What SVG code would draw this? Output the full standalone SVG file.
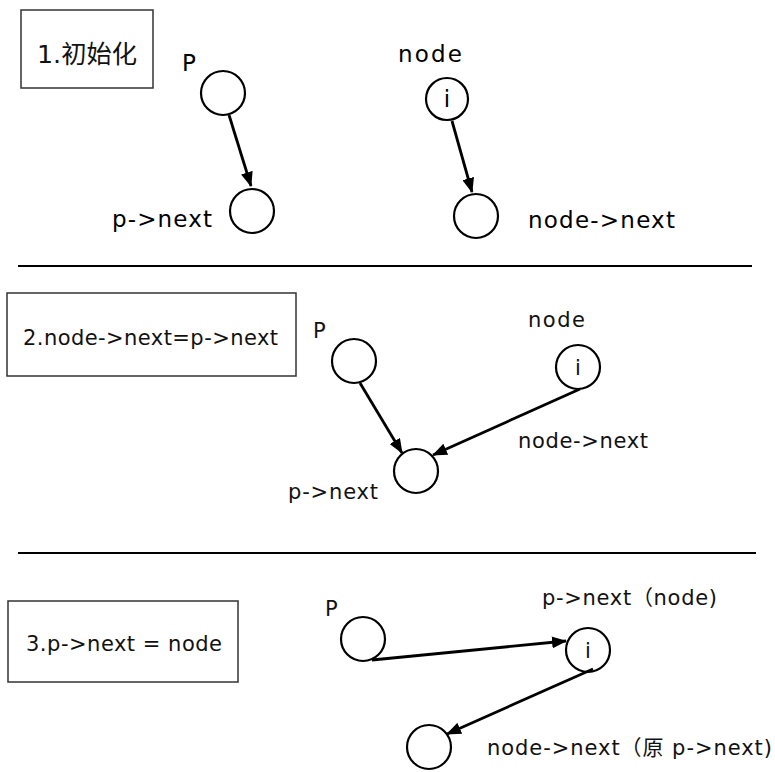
<svg xmlns="http://www.w3.org/2000/svg" width="775" height="772" viewBox="0 0 775 772">
<style>
  .box { fill: #fff; stroke: #333; stroke-width: 1.5; }
  .node { fill: #fff; stroke: #000; stroke-width: 2.2; }
  .sep { stroke: #000; stroke-width: 2; }
  .edge { stroke: #000; stroke-width: 2.8; fill: none; marker-end: url(#ah); }
  text { font-family: "DejaVu Sans", "Noto Sans CJK SC", sans-serif; fill: #000; }
  .t22 { font-size: 23px; }
  .lbl { font-size: 21px; fill: #111; }
  .mid { text-anchor: middle; }
</style>
<defs>
  <marker id="ah" markerUnits="userSpaceOnUse" markerWidth="15" markerHeight="12" refX="14" refY="6" orient="auto">
    <path d="M0,0 L15,6 L0,12 z" fill="#000"/>
  </marker>
</defs>
<rect width="775" height="772" fill="#fff"/>

<!-- Section 1 -->
<g id="step1">
  <rect class="box" x="21" y="10" width="132" height="78"/>
  <text class="lbl" x="37" y="63" style="font-size:25px" textLength="100" lengthAdjust="spacingAndGlyphs">1.初始化</text>
</g>
<g id="s1-p">
  <circle class="node" cx="223" cy="93" r="22"/>
  <text class="t22" x="182" y="71">P</text>
</g>
<g id="s1-pnext">
  <circle class="node" cx="252" cy="211" r="22"/>
  <text class="t22" x="112" y="227" textLength="100" lengthAdjust="spacing">p->next</text>
</g>
<g id="s1-node">
  <circle class="node" cx="447" cy="99" r="21"/>
  <text class="t22 mid" x="447" y="107">i</text>
  <text class="t22" x="398" y="62" textLength="64" lengthAdjust="spacing">node</text>
</g>
<g id="s1-nodenext">
  <circle class="node" cx="476" cy="216" r="22"/>
  <text class="t22" x="528" y="228" textLength="147" lengthAdjust="spacing">node->next</text>
</g>

<line class="sep" x1="18" y1="266" x2="752" y2="266"/>

<!-- Section 2 -->
<g id="step2">
  <rect class="box" x="7" y="293" width="289" height="83"/>
  <text class="lbl" x="23" y="345" textLength="255" lengthAdjust="spacing">2.node->next=p->next</text>
</g>
<g id="s2-p">
  <circle class="node" cx="354" cy="361" r="22"/>
  <text class="lbl" x="313" y="338">P</text>
</g>
<g id="s2-pnext">
  <circle class="node" cx="416" cy="471" r="22"/>
  <text class="lbl" x="288" y="499" textLength="90" lengthAdjust="spacing">p->next</text>
</g>
<g id="s2-node">
  <circle class="node" cx="578" cy="367" r="22"/>
  <text class="lbl mid" x="578" y="375">i</text>
  <text class="lbl" x="528" y="327" textLength="57" lengthAdjust="spacing">node</text>
  <text class="lbl" x="518" y="448" textLength="130" lengthAdjust="spacing">node->next</text>
</g>

<line class="sep" x1="18" y1="553" x2="756" y2="553"/>

<!-- Section 3 -->
<g id="step3">
  <rect class="box" x="8" y="601" width="230" height="81"/>
  <text class="lbl" x="26" y="651" textLength="196" lengthAdjust="spacing">3.p->next = node</text>
</g>
<g id="s3-p">
  <circle class="node" cx="363" cy="639" r="22"/>
  <text class="lbl" x="325" y="616">P</text>
</g>
<g id="s3-node">
  <circle class="node" cx="588" cy="650" r="22"/>
  <text class="lbl mid" x="588" y="658">i</text>
  <text class="lbl" x="542" y="605" textLength="175" lengthAdjust="spacing">p->next（node)</text>
</g>
<g id="s3-old">
  <circle class="node" cx="429" cy="747" r="22"/>
  <text class="lbl" x="487" y="755" textLength="285" lengthAdjust="spacing">node->next（原 p->next)</text>
</g>

<g id="connectors">
  <line class="edge" x1="229" y1="115" x2="251" y2="186"/>
  <line class="edge" x1="452" y1="121" x2="472" y2="192"/>
  <line class="edge" x1="360" y1="383" x2="402" y2="453"/>
  <line class="edge" x1="580" y1="389" x2="433" y2="455"/>
  <line class="edge" x1="372" y1="660" x2="566" y2="641"/>
  <line class="edge" x1="593" y1="669" x2="447" y2="734"/>
</g>
</svg>
